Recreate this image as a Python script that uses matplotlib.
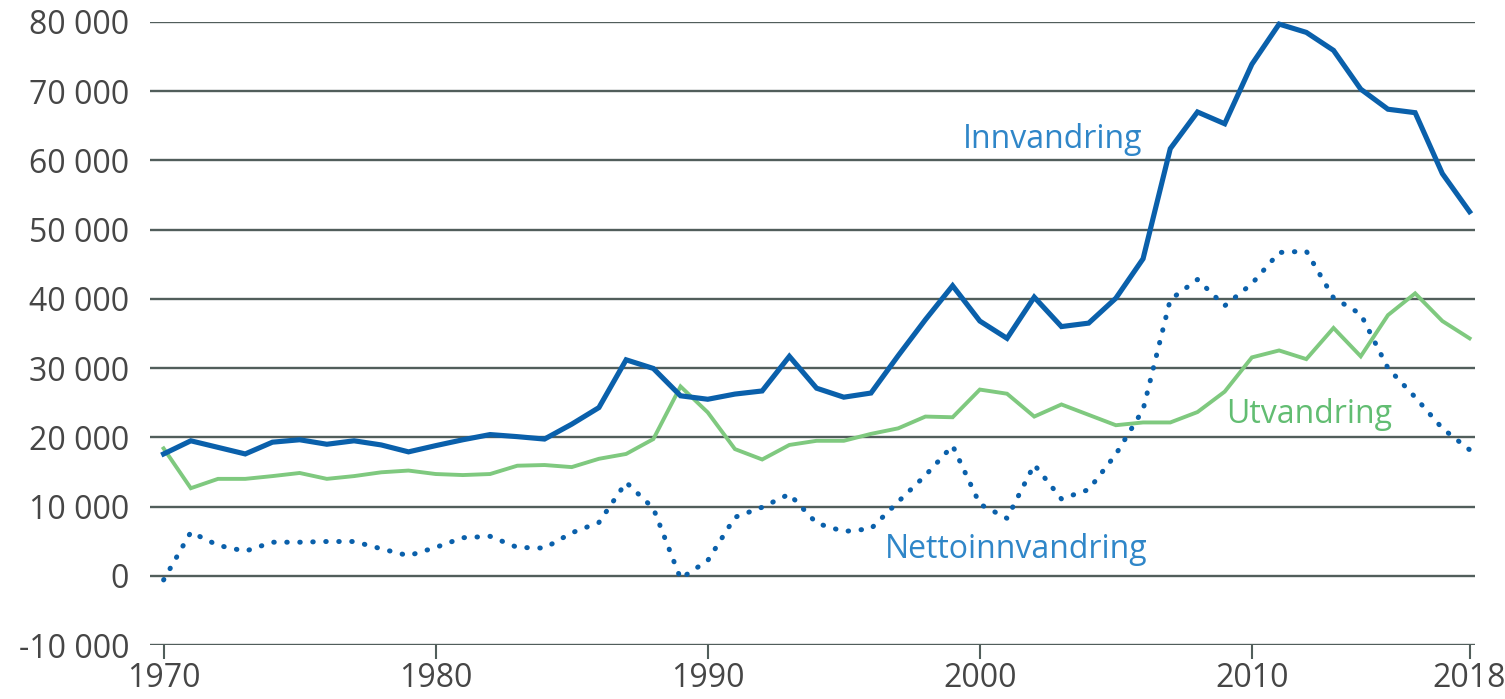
import numpy as np
import matplotlib
matplotlib.use('Agg')
import matplotlib.pyplot as plt
from matplotlib.ticker import FuncFormatter

################## data ##################
years = list(range(1970, 2019))

innvandring = [17600, 19500, 18550, 17600, 19300, 19650, 19000, 19500, 18900, 17900,
               18800, 19650, 20400, 20100, 19750, 21900, 24300, 31200, 29950, 26000,
               25500, 26250, 26700, 31700, 27100, 25800, 26400, 31800, 37000, 41900,
               36800, 34300, 40250, 36000, 36500, 40100, 45800, 61700, 67000, 65300,
               73900, 79700, 78500, 75900, 70300, 67400, 66900, 58100, 52600]

utvandring = [18400, 12650, 14000, 14000, 14400, 14850, 14000, 14400, 14950, 15200,
              14700, 14550, 14700, 15900, 16000, 15700, 16900, 17600, 19750, 27350,
              23600, 18300, 16800, 18900, 19500, 19500, 20500, 21300, 23000, 22900,
              26900, 26300, 23000, 24750, 23250, 21750, 22150, 22150, 23650, 26600,
              31550, 32550, 31300, 35800, 31700, 37650, 40800, 36800, 34300]

netto = [-600, 6300, 4400, 3550, 4850, 4850, 4950, 4950, 3900, 2900,
         4100, 5500, 5700, 4100, 4000, 6200, 7700, 13500, 9750, -400,
         2200, 8450, 9900, 11800, 7600, 6400, 6800, 10700, 14500, 18800,
         10350, 8300, 16050, 11100, 12450, 17550, 24000, 39900, 42800, 39000,
         42200, 46700, 46900, 40150, 37800, 30000, 25800, 21300, 18200]

y_ticks = list(range(-10000, 80001, 10000))
x_ticks = [1970, 1980, 1990, 2000, 2010, 2018]

blue = '#0a60ab'
green = '#7fc97f'
label_blue = '#2f86c8'
label_green = '#62bd72'
grid_col = '#515e5b'
text_col = '#464646'

plt.rcParams['font.family'] = ['Open Sans', 'DejaVu Sans']

fig = plt.figure(figsize=(15.05, 6.99), dpi=100)
ax = fig.add_axes([150 / 1505, 1 - 645 / 699, 1325 / 1505, (645 - 22) / 699])

for yv in y_ticks:
    ax.axhline(yv, color=grid_col, lw=1.7, zorder=1)

ax.plot(years, utvandring, color=green, lw=2.8, solid_joinstyle='miter', zorder=3, clip_on=False)
ax.plot(years, netto, color=blue, lw=3.6, linestyle=(0, (0.1, 2.5)),
        dash_capstyle='round', zorder=3, clip_on=False)
ax.plot(years, innvandring, color=blue, lw=3.7, solid_joinstyle='miter', zorder=4, clip_on=False)

ax.text(2002.68, 62970, 'Innvandring', color=label_blue, fontsize=23, ha='center', va='center')
ax.text(2012.11, 23340, 'Utvandring', color=label_green, fontsize=23, ha='center', va='center')
ax.text(2001.34, 3750, 'Nettoinnvandring', color=label_blue, fontsize=23, ha='center', va='center')

ax.set_xlim(1969.5, 2018.2)
ax.set_ylim(-10000, 80000)
ax.set_yticks(y_ticks)
ax.yaxis.set_major_formatter(FuncFormatter(lambda v, p: f'{int(v):,}'.replace(',', ' ')))
ax.set_xticks(x_ticks)

for s in ax.spines.values():
    s.set_visible(False)

ax.tick_params(axis='y', length=0, pad=15, labelsize=23, labelcolor=text_col)
ax.tick_params(axis='x', length=10, width=1.5, color=grid_col, pad=2,
               labelsize=23, labelcolor=text_col)

fig.savefig('out.png', dpi=100)
